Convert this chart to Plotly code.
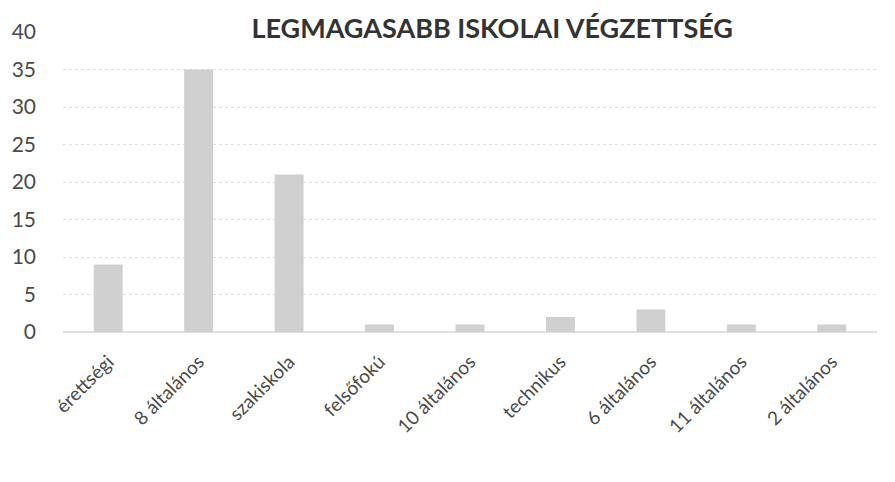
import plotly.graph_objects as go

# Data
categories = ['érettségi', '8 általános', 'szakiskola', 'felsőfokú', '10 általános',
              'technikus', '6 általános', '11 általános', '2 általános']
values = [9, 35, 21, 1, 1, 2, 3, 1, 1]
y_ticks = [0, 5, 10, 15, 20, 25, 30, 35, 40]

fig = go.Figure(go.Bar(
    x=categories,
    y=values,
    marker=dict(color='#d0d0d0', line=dict(width=0)),
))

# page body adds an 8px offset, margins compensate for it
fig.update_layout(
    width=895, height=482,
    margin=dict(l=55, r=26, t=24, b=158),
    paper_bgcolor='white',
    plot_bgcolor='white',
    bargap=0.68,
    showlegend=False,
    font=dict(family='Lato, Open Sans, sans-serif', color='#4a4a4a'),
    title=dict(
        text='<b>LEGMAGASABB ISKOLAI VÉGZETTSÉG</b>',
        x=0.541, xanchor='center', y=0.958, yanchor='middle',
        font=dict(size=27, color='#333333'),
    ),
)

fig.update_xaxes(
    tickangle=-45,
    tickfont=dict(size=19, color='#4a4a4a'),
    showline=False,
    showgrid=False,
    ticks='',
    ticklabelstandoff=14,
    automargin=False,
)
fig.update_yaxes(
    range=[0, 40],
    tickvals=y_ticks,
    tickfont=dict(size=21, color='#4a4a4a'),
    showgrid=True,
    gridcolor='#e0e0e0',
    griddash='dot',
    gridwidth=1,
    zeroline=True,
    zerolinecolor='#e0e0e0',
    ticks='',
    ticklabelstandoff=26,
    automargin=False,
)

fig.write_html("out.html")
